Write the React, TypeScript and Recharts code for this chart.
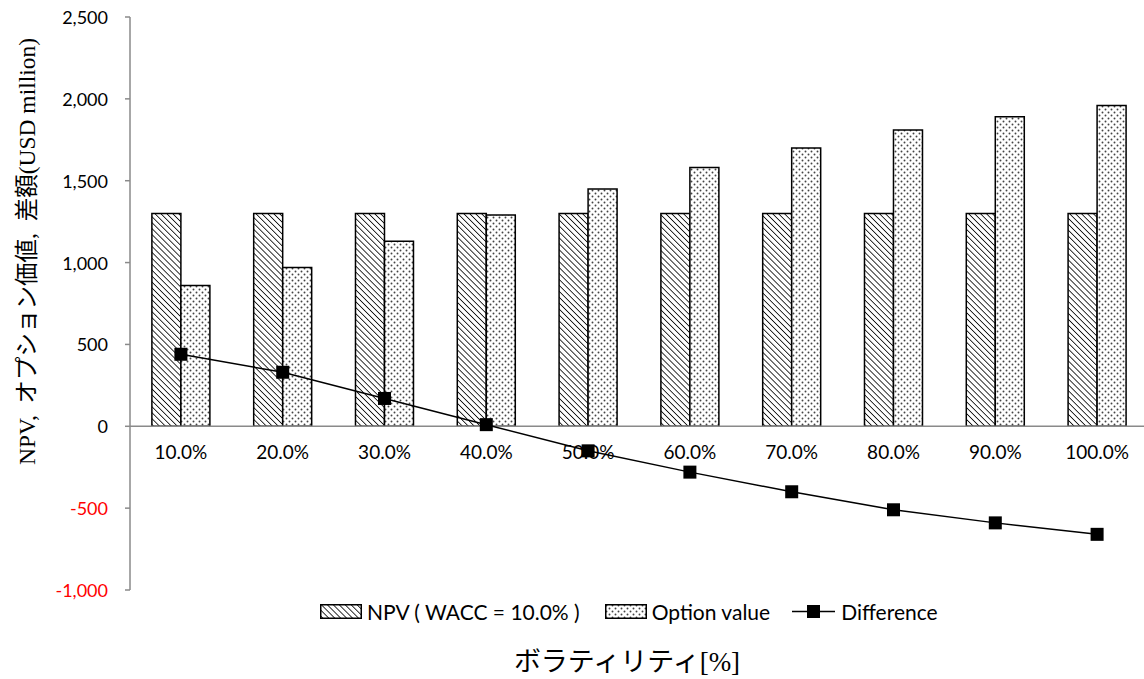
import React from 'react';
import {
  ComposedChart,
  Bar,
  Line,
  XAxis,
  YAxis,
  ReferenceLine,
  ReferenceDot,
  Legend,
} from 'recharts';

const categories = ['10.0%', '20.0%', '30.0%', '40.0%', '50.0%', '60.0%', '70.0%', '80.0%', '90.0%', '100.0%'];
const npvValues = [1300, 1300, 1300, 1300, 1300, 1300, 1300, 1300, 1300, 1300];
const optionValues = [860, 970, 1130, 1290, 1450, 1580, 1700, 1810, 1890, 1960];
const differenceValues = [440, 330, 170, 10, -150, -280, -400, -510, -590, -660];
const yTicks = [-1000, -500, 0, 500, 1000, 1500, 2000, 2500];

const seriesNames = {
  npv: 'NPV ( WACC = 10.0% )',
  option: 'Option value',
  diff: 'Difference',
};
const yTitle = 'NPV,  オプション価値,  差額(USD million)';
const xTitle = 'ボラティリティ[%]';

const data = categories.map((c, i) => ({
  cat: c,
  npv: npvValues[i],
  option: optionValues[i],
  diff: differenceValues[i],
}));

const SANS = 'Lato, "Open Sans", sans-serif';
const SERIF = '"Liberation Serif", "Noto Sans CJK JP", serif';
const AXIS_GRAY = '#8a8a8a';

const fmt = (v: number) => v.toLocaleString('en-US');

const YTick = (props: any) => {
  const { x, y, payload } = props;
  const v = payload.value as number;
  return (
    <text
      x={x}
      y={y}
      textAnchor="end"
      dominantBaseline="central"
      fill={v < 0 ? '#FF0000' : '#000'}
      fontSize={18}
      fontFamily={SANS}
    >
      {fmt(v)}
    </text>
  );
};

const YLabel = (props: any) => {
  const vb = props.viewBox || { x: 0, y: 0, width: 0, height: 0 };
  const cx = vb.x + 27;
  const cy = vb.y + vb.height / 2 - 52;
  return (
    <text
      x={cx}
      y={cy}
      transform={`rotate(-90 ${cx} ${cy})`}
      textAnchor="middle"
      dominantBaseline="central"
      fontSize={23.5}
      fontFamily={SERIF}
      fill="#000"
      style={{ whiteSpace: 'pre' }}
    >
      {yTitle}
    </text>
  );
};

const XLabel = (props: any) => {
  const vb = props.viewBox || { x: 0, y: 0, width: 0, height: 0 };
  const cx = vb.x + vb.width / 2 - 12;
  const cy = vb.y + vb.height - 17;
  return (
    <text
      x={cx}
      y={cy}
      textAnchor="middle"
      dominantBaseline="central"
      fontSize={27}
      fontFamily={SERIF}
      fill="#000"
    >
      {xTitle}
    </text>
  );
};

const SquareDot = (props: any) => {
  const { cx, cy, index } = props;
  if (cx == null || cy == null) return <g key={`d-${index}`} />;
  return <rect key={`d-${index}`} x={cx - 6.5} y={cy - 6.5} width={13} height={13} fill="#000" />;
};

const HatchPattern = ({ id }: { id: string }) => (
  <pattern id={id} width="4.2" height="4.2" patternUnits="userSpaceOnUse" patternTransform="rotate(-45)">
    <rect width="4.2" height="4.2" fill="#fff" />
    <line x1="0" y1="0" x2="0" y2="4.2" stroke="#111" strokeWidth="1.7" />
  </pattern>
);

const DotPattern = ({ id }: { id: string }) => (
  <pattern id={id} width="6" height="6" patternUnits="userSpaceOnUse">
    <rect width="6" height="6" fill="#fff" />
    <circle cx="1.5" cy="1.5" r="0.95" fill="#444" />
    <circle cx="4.5" cy="4.5" r="0.95" fill="#444" />
  </pattern>
);

const PatternDefs = () => (
  <defs>
    <HatchPattern id="hatch" />
    <DotPattern id="dots" />
  </defs>
);

const LegendContent = () => (
  <div
    style={{
      display: 'flex',
      alignItems: 'center',
      height: 24,
      fontFamily: SANS,
      fontSize: 21,
      color: '#000',
      whiteSpace: 'nowrap',
    }}
  >
    <svg width={42} height={15} style={{ marginRight: 5 }}>
      <defs>
        <HatchPattern id="hatchL" />
        <DotPattern id="dotsL" />
      </defs>
      <rect x={0.75} y={0.75} width={40.5} height={13.5} fill="url(#hatchL)" stroke="#000" strokeWidth={1.5} />
    </svg>
    <span style={{ marginRight: 25 }}>{seriesNames.npv}</span>
    <svg width={42} height={15} style={{ marginRight: 5 }}>
      <rect x={0.75} y={0.75} width={40.5} height={13.5} fill="url(#dotsL)" stroke="#000" strokeWidth={1.5} />
    </svg>
    <span style={{ marginRight: 22 }}>{seriesNames.option}</span>
    <svg width={43} height={15} style={{ marginRight: 6 }}>
      <line x1={0} y1={7.5} x2={43} y2={7.5} stroke="#000" strokeWidth={1.5} />
      <rect x={15} y={1} width={13} height={13} fill="#000" />
    </svg>
    <span>{seriesNames.diff}</span>
  </div>
);

export default function App() {
  return (
    <div style={{ position: 'absolute', left: 0, top: 0, width: 1144, height: 679, overflow: 'hidden', background: '#fff' }}>
      <ComposedChart
        width={1150}
        height={679}
        data={data}
        margin={{ top: 17, right: 2, bottom: 0, left: 0 }}
        barGap={0}
        barCategoryGap="21.5%"
      >
        <PatternDefs />
        <XAxis
          dataKey="cat"
          height={89}
          axisLine={false}
          tickLine={false}
          tick={false}
          label={XLabel}
        />
        <YAxis
          width={130}
          domain={[-1000, 2500]}
          ticks={yTicks}
          interval={0}
          axisLine={{ stroke: AXIS_GRAY, strokeWidth: 1.5 }}
          tickLine={{ stroke: AXIS_GRAY, strokeWidth: 1.5 }}
          tickSize={5}
          tickMargin={17}
          tick={YTick}
          label={YLabel}
        />
        <ReferenceLine y={0} stroke={AXIS_GRAY} strokeWidth={1.5} />
        <Bar dataKey="npv" name={seriesNames.npv} fill="url(#hatch)" stroke="#000" strokeWidth={1.5} isAnimationActive={false} />
        <Bar dataKey="option" name={seriesNames.option} fill="url(#dots)" stroke="#000" strokeWidth={1.5} isAnimationActive={false} />
        {categories.map((c) => (
          <ReferenceDot
            key={c}
            x={c}
            y={0}
            r={1}
            fill="none"
            stroke="none"
            label={{ value: c, position: 'bottom', offset: 18, fontSize: 19, fontFamily: SANS, fill: '#000' }}
          />
        ))}
        <Line
          dataKey="diff"
          name={seriesNames.diff}
          stroke="#000"
          strokeWidth={1.5}
          dot={SquareDot}
          activeDot={false}
          isAnimationActive={false}
        />
        <Legend
          verticalAlign="middle"
          align="center"
          layout="horizontal"
          wrapperStyle={{ position: 'absolute', top: 599, left: 320, width: 760, height: 24 }}
          content={LegendContent}
        />
      </ComposedChart>
    </div>
  );
}
